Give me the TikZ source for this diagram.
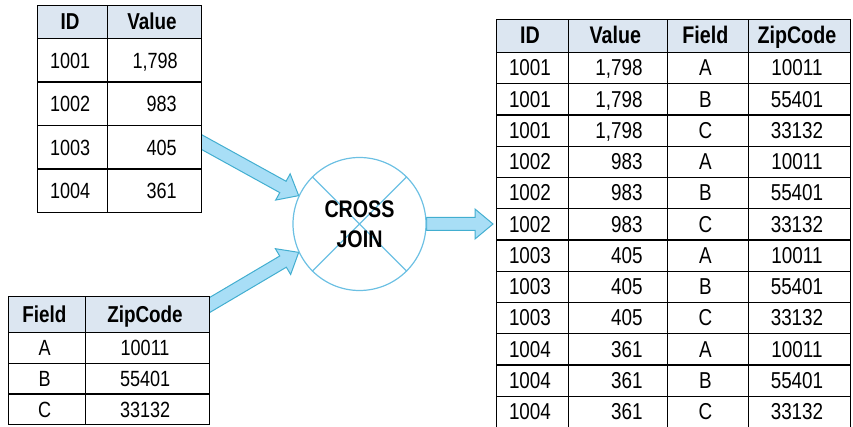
\documentclass[tikz,border=0pt]{standalone}
\usepackage{fontspec}
\setmainfont[FakeStretch=0.82]{Liberation Sans}
\usetikzlibrary{matrix,calc,backgrounds}

\definecolor{headfill}{HTML}{DCE6F1}
\definecolor{arrowfill}{HTML}{A8DEF6}
\definecolor{arrowline}{HTML}{42AED0}
\definecolor{joinline}{HTML}{6CC0E3}

\tikzset{
  cell/.style={draw, fill=white, line width=1.2pt, outer sep=0pt, inner sep=0pt,
    text height=15.5pt, text depth=0pt, align=center, font=\fontsize{22}{26}\selectfont},
  headcell/.style={fill=headfill, text width=, align=center, font=\fontsize{23}{27}\selectfont\bfseries},
  tablegrid/.style={matrix of nodes, nodes in empty cells, anchor=north west,
    inner sep=0pt, outer sep=0pt, column sep=-1.2pt, row sep=-1.2pt, nodes={cell}},
  blockarrow/.style={draw=arrowline, fill=arrowfill, line width=1pt, line join=miter,
    to path={let \p1=($(\tikztotarget)-(\tikztostart)$), \n1={atan2(\y1,\x1)}, \n2={veclen(\x1,\y1)-18} in
      ($(\tikztostart)+(\n1+90:6.5)$) -- ($(\tikztostart)+(\n1:\n2)+(\n1+90:6.5)$)
      -- ($(\tikztostart)+(\n1:\n2)+(\n1+90:15)$) -- (\tikztotarget)
      -- ($(\tikztostart)+(\n1:\n2)+(\n1-90:15)$) -- ($(\tikztostart)+(\n1:\n2)+(\n1-90:6.5)$)
      -- ($(\tikztostart)+(\n1-90:6.5)$) -- cycle}}
}

\begin{document}
\begin{tikzpicture}[x=1pt,y=1pt]
    \useasboundingbox (0,0) rectangle (853,427);
    %% Input tables
    \matrix (ids) [tablegrid, nodes={minimum height=43.5pt},
        column 1/.style={nodes={minimum width=70pt}},
        column 2/.style={nodes={minimum width=94pt, text width=44pt, align=right}},
        row 1/.style={nodes={headcell, minimum height=33pt}}] at (37,422) {
        ID & Value \\
        1001 & 1,798 \\
        1002 & 983 \\
        1003 & 405 \\
        1004 & 361 \\
    };
    \matrix (zips) [tablegrid, nodes={minimum height=30.7pt},
        column 1/.style={nodes={minimum width=77pt}},
        column 2/.style={nodes={minimum width=124pt}},
        row 1/.style={nodes={headcell, minimum height=36pt}}] at (8,131) {
        Field & ZipCode \\
        A & 10011 \\
        B & 55401 \\
        C & 33132 \\
    };
    %% Join
    \node[circle, draw=joinline, line width=1.2pt, minimum size=133pt, inner sep=0pt] (join) at (359.5,203) {};
    \draw[joinline, line width=1.2pt] (join.45) -- (join.225) (join.135) -- (join.315);
    \node[font=\fontsize{24}{30}\selectfont\bfseries, align=center] (joinlabel) at (join.center) {CROSS\\JOIN};
    %% Result table
    \matrix (res) [tablegrid, nodes={minimum height=31.25pt, font=\fontsize{23}{27}\selectfont},
        column 1/.style={nodes={minimum width=72pt}},
        column 2/.style={nodes={minimum width=99pt, text width=49pt, align=right}},
        column 3/.style={nodes={minimum width=81pt}},
        column 4/.style={nodes={minimum width=102pt}},
        row 1/.style={nodes={headcell, minimum height=33pt, font=\fontsize{24}{28}\selectfont\bfseries}}] at (496,408) {
        ID & Value & Field & ZipCode \\
        1001 & 1,798 & A & 10011 \\
        1001 & 1,798 & B & 55401 \\
        1001 & 1,798 & C & 33132 \\
        1002 & 983 & A & 10011 \\
        1002 & 983 & B & 55401 \\
        1002 & 983 & C & 33132 \\
        1003 & 405 & A & 10011 \\
        1003 & 405 & B & 55401 \\
        1003 & 405 & C & 33132 \\
        1004 & 361 & A & 10011 \\
        1004 & 361 & B & 55401 \\
        1004 & 361 & C & 33132 \\
    };
    %% Arrows
    \coordinate (in1) at ([shift={(-6,-30)}]ids.east);
    \coordinate (in2) at ([shift={(-9,-14)}]zips.north east);
    \coordinate (out) at ([xshift=-3pt]res.west |- join.east);
    \begin{pgfonlayer}{background}
        \draw[blockarrow] (in1) to (join.155);
        \draw[blockarrow] (in2) to (join.205);
        \draw[blockarrow] (join.east) to (out);
    \end{pgfonlayer}
\end{tikzpicture}
\end{document}
